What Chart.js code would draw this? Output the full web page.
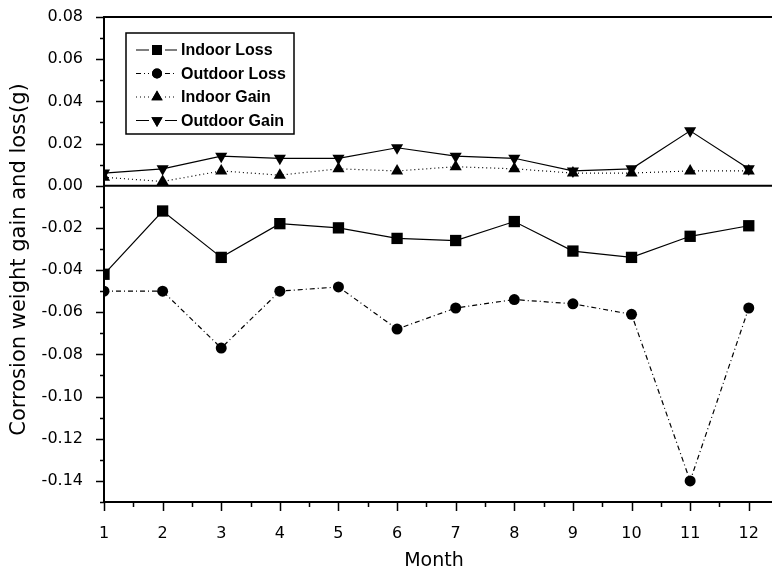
<!DOCTYPE html>
<html>
<head>
<meta charset="utf-8">
<script src="https://cdn.jsdelivr.net/npm/chart.js@4/dist/chart.umd.min.js"></script>
<style>
  html, body { margin: 0; background: #fff; }
</style>
</head>
<body>
<canvas id="chart" width="772" height="576"></canvas>
<script>
// Valores (mês x ganho/perda em g)
const months = [1, 2, 3, 4, 5, 6, 7, 8, 9, 10, 11, 12];
const indoorLoss = [-0.042, -0.012, -0.034, -0.018, -0.020, -0.025, -0.026, -0.017, -0.031, -0.034, -0.024, -0.019];
const outdoorLoss = [-0.050, -0.050, -0.077, -0.050, -0.048, -0.068, -0.058, -0.054, -0.056, -0.061, -0.140, -0.058];
const indoorGain = [0.004, 0.002, 0.007, 0.005, 0.008, 0.007, 0.009, 0.008, 0.006, 0.006, 0.007, 0.007];
const outdoorGain = [0.006, 0.008, 0.014, 0.013, 0.013, 0.018, 0.014, 0.013, 0.007, 0.008, 0.026, 0.008];
const yTickValues = [-0.14, -0.12, -0.10, -0.08, -0.06, -0.04, -0.02, 0.00, 0.02, 0.04, 0.06, 0.08];
const xTickValues = months;

const FONT = "'DejaVu Sans', sans-serif";

function pts(values) {
  return months.map((m, i) => ({ x: m, y: values[i] }));
}

const series = [
  { label: 'Indoor Loss', data: indoorLoss, style: 'rect', radius: 8, rot: 0, dash: [] },
  { label: 'Outdoor Loss', data: outdoorLoss, style: 'circle', radius: 5.5, rot: 0, dash: [5, 3, 1, 3] },
  { label: 'Indoor Gain', data: indoorGain, style: 'triangle', radius: 7, rot: 0, dash: [1, 3] },
  { label: 'Outdoor Gain', data: outdoorGain, style: 'triangle', radius: 7, rot: 180, dash: [] }
];

// Ticks, moldura, linha do zero e legenda desenhados à mão
const decor = {
  id: 'decor',
  afterDraw(chart) {
    const ctx = chart.ctx;
    const a = chart.chartArea;
    const xs = chart.scales.x, ys = chart.scales.y;
    ctx.save();
    ctx.strokeStyle = '#000';
    ctx.lineWidth = 2;
    // moldura superior, eixo inferior até a borda e linha do zero
    ctx.beginPath();
    ctx.moveTo(a.left, a.top); ctx.lineTo(chart.width, a.top);
    ctx.moveTo(a.right - 1, a.bottom); ctx.lineTo(chart.width, a.bottom);
    const y0 = ys.getPixelForValue(0);
    ctx.moveTo(a.left, y0); ctx.lineTo(chart.width, y0);
    ctx.stroke();

    ctx.lineWidth = 1.5;
    ctx.beginPath();
    for (let i = -15; i <= 8; i++) {
      const py = Math.round(ys.getPixelForValue(i / 100)) + 0.5;
      const len = i % 2 === 0 ? 8 : 4;
      ctx.moveTo(a.left, py); ctx.lineTo(a.left - len, py);
    }
    for (let i = 2; i <= 24; i++) {
      const px = Math.round(xs.getPixelForValue(i / 2)) + 0.5;
      if (px > chart.width) continue;
      const len = i % 2 === 0 ? 9 : 5;
      ctx.moveTo(px, a.bottom); ctx.lineTo(px, a.bottom + len);
    }
    ctx.stroke();

    // legenda
    const bx = 126, by = 33, bw = 168, bh = 101;
    ctx.lineWidth = 1.5;
    ctx.strokeRect(bx, by, bw, bh);
    ctx.font = "bold 16px 'Liberation Sans', sans-serif";
    ctx.fillStyle = '#000';
    ctx.textBaseline = 'middle';
    series.forEach((s, i) => {
      const ry = 50 + i * 23.5;
      ctx.setLineDash(s.dash);
      ctx.lineWidth = 1.2;
      ctx.beginPath();
      ctx.moveTo(136, ry); ctx.lineTo(149, ry);
      ctx.moveTo(165, ry); ctx.lineTo(177, ry);
      ctx.stroke();
      ctx.setLineDash([]);
      Chart.helpers.drawPoint(ctx, { pointStyle: s.style, radius: s.style === 'rect' ? 7 : s.radius - 0.5, rotation: s.rot, borderWidth: 0 }, 157, ry);
      ctx.fill();
      ctx.fillText(s.label, 181, ry + 1);
    });
    ctx.restore();
  }
};

const ctx = document.getElementById('chart').getContext('2d');
new Chart(ctx, {
  type: 'line',
  data: {
    datasets: series.map(s => ({
      label: s.label,
      data: pts(s.data),
      borderColor: '#000',
      backgroundColor: '#000',
      borderWidth: 1.2,
      borderDash: s.dash,
      pointStyle: s.style,
      pointRadius: s.radius,
      pointRotation: s.rot,
      pointBorderWidth: 0,
      tension: 0
    }))
  },
  options: {
    responsive: false,
    animation: false,
    devicePixelRatio: 1,
    layout: { padding: { left: 0, top: 17, right: 0, bottom: 0 } },
    plugins: {
      legend: { display: false },
      tooltip: { enabled: false }
    },
    scales: {
      x: {
        type: 'linear',
        min: 1,
        max: 12.26,
        afterBuildTicks: s => { s.ticks = xTickValues.map(v => ({ value: v })); },
        afterFit: s => { s.height = 74; s.paddingLeft = 0; s.paddingRight = 0; },
        grid: { display: false },
        border: { display: true, color: '#000', width: 2 },
        ticks: {
          padding: 14,
          color: '#000',
          font: { family: FONT, size: 16 },
          maxRotation: 0,
          callback: v => String(v)
        },
        title: {
          display: true,
          text: 'Month',
          color: '#000',
          font: { family: FONT, size: 19 },
          padding: { top: 0, bottom: 4 }
        }
      },
      y: {
        type: 'linear',
        min: -0.15,
        max: 0.08,
        afterBuildTicks: s => { s.ticks = yTickValues.map(v => ({ value: v })); },
        afterFit: s => { s.width = 104; s.paddingTop = 0; s.paddingBottom = 0; },
        grid: { display: false },
        border: { display: true, color: '#000', width: 2 },
        ticks: {
          padding: 13,
          color: '#000',
          font: { family: FONT, size: 16 },
          callback: v => v.toFixed(2)
        },
        title: {
          display: true,
          text: 'Corrosion weight gain and loss(g)',
          color: '#000',
          font: { family: FONT, size: 21 },
          padding: { top: 7, bottom: 0 }
        }
      }
    }
  },
  plugins: [decor]
});
</script>
</body>
</html>
